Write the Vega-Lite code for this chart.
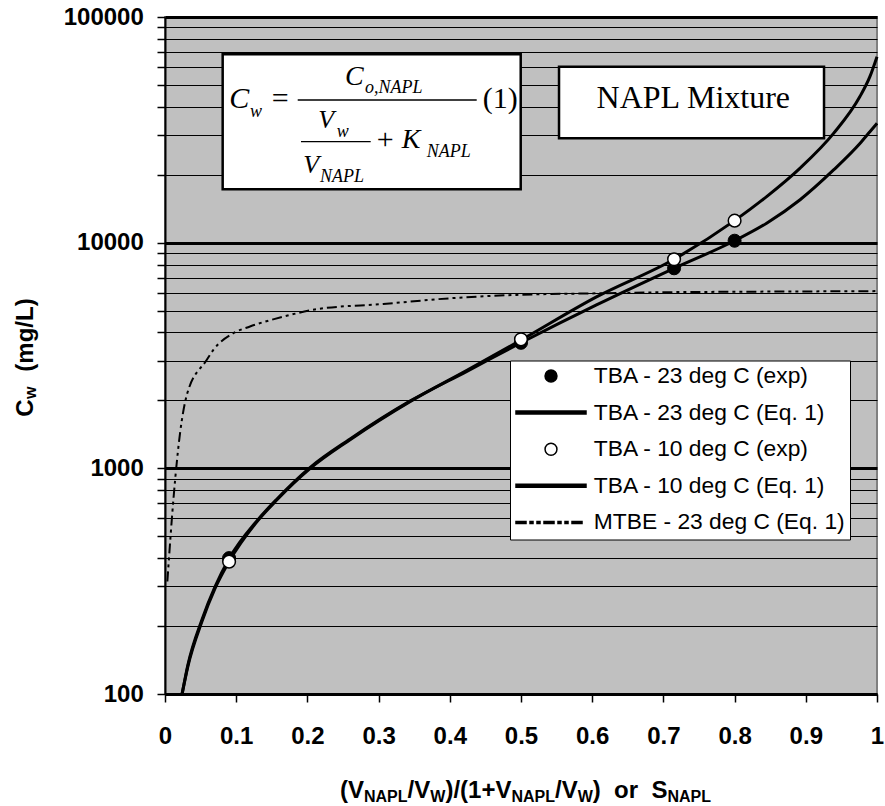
{
  "$schema": "https://vega.github.io/schema/vega-lite/v6.json",
  "width": 712,
  "height": 677,
  "autosize": {"type": "none"},
  "padding": {"left": 165, "top": 17, "right": 8, "bottom": 112},
  "background": "white",
  "config": {
    "view": {"fill": "#C0C0C0", "stroke": "#808080", "strokeWidth": 2}
  },
  "datasets": {
    "curves": [
      {"series": "TBA - 10 deg C (Eq. 1)", "x": 0.024, "y": 100},
      {"series": "TBA - 10 deg C (Eq. 1)", "x": 0.032, "y": 132},
      {"series": "TBA - 10 deg C (Eq. 1)", "x": 0.052, "y": 210},
      {"series": "TBA - 10 deg C (Eq. 1)", "x": 0.07, "y": 292},
      {"series": "TBA - 10 deg C (Eq. 1)", "x": 0.09, "y": 386},
      {"series": "TBA - 10 deg C (Eq. 1)", "x": 0.129, "y": 579},
      {"series": "TBA - 10 deg C (Eq. 1)", "x": 0.157, "y": 724},
      {"series": "TBA - 10 deg C (Eq. 1)", "x": 0.204, "y": 1000},
      {"series": "TBA - 10 deg C (Eq. 1)", "x": 0.26, "y": 1340},
      {"series": "TBA - 10 deg C (Eq. 1)", "x": 0.344, "y": 1975},
      {"series": "TBA - 10 deg C (Eq. 1)", "x": 0.424, "y": 2720},
      {"series": "TBA - 10 deg C (Eq. 1)", "x": 0.5, "y": 3700},
      {"series": "TBA - 10 deg C (Eq. 1)", "x": 0.606, "y": 5750},
      {"series": "TBA - 10 deg C (Eq. 1)", "x": 0.715, "y": 8445},
      {"series": "TBA - 10 deg C (Eq. 1)", "x": 0.8, "y": 12520},
      {"series": "TBA - 10 deg C (Eq. 1)", "x": 0.845, "y": 16000},
      {"series": "TBA - 10 deg C (Eq. 1)", "x": 0.892, "y": 21400},
      {"series": "TBA - 10 deg C (Eq. 1)", "x": 0.939, "y": 30500},
      {"series": "TBA - 10 deg C (Eq. 1)", "x": 0.976, "y": 44400},
      {"series": "TBA - 10 deg C (Eq. 1)", "x": 0.99, "y": 54400},
      {"series": "TBA - 10 deg C (Eq. 1)", "x": 1.0, "y": 66700},
      {"series": "TBA - 23 deg C (Eq. 1)", "x": 0.024, "y": 100},
      {"series": "TBA - 23 deg C (Eq. 1)", "x": 0.032, "y": 134},
      {"series": "TBA - 23 deg C (Eq. 1)", "x": 0.052, "y": 214},
      {"series": "TBA - 23 deg C (Eq. 1)", "x": 0.07, "y": 298},
      {"series": "TBA - 23 deg C (Eq. 1)", "x": 0.09, "y": 398},
      {"series": "TBA - 23 deg C (Eq. 1)", "x": 0.129, "y": 585},
      {"series": "TBA - 23 deg C (Eq. 1)", "x": 0.157, "y": 730},
      {"series": "TBA - 23 deg C (Eq. 1)", "x": 0.204, "y": 1010},
      {"series": "TBA - 23 deg C (Eq. 1)", "x": 0.26, "y": 1350},
      {"series": "TBA - 23 deg C (Eq. 1)", "x": 0.344, "y": 1985},
      {"series": "TBA - 23 deg C (Eq. 1)", "x": 0.424, "y": 2690},
      {"series": "TBA - 23 deg C (Eq. 1)", "x": 0.5, "y": 3600},
      {"series": "TBA - 23 deg C (Eq. 1)", "x": 0.606, "y": 5300},
      {"series": "TBA - 23 deg C (Eq. 1)", "x": 0.715, "y": 7700},
      {"series": "TBA - 23 deg C (Eq. 1)", "x": 0.8, "y": 10200},
      {"series": "TBA - 23 deg C (Eq. 1)", "x": 0.845, "y": 12200},
      {"series": "TBA - 23 deg C (Eq. 1)", "x": 0.892, "y": 15500},
      {"series": "TBA - 23 deg C (Eq. 1)", "x": 0.939, "y": 21000},
      {"series": "TBA - 23 deg C (Eq. 1)", "x": 0.976, "y": 27500},
      {"series": "TBA - 23 deg C (Eq. 1)", "x": 0.99, "y": 31000},
      {"series": "TBA - 23 deg C (Eq. 1)", "x": 1.0, "y": 33800},
      {"series": "MTBE - 23 deg C (Eq. 1)", "x": 0.0033, "y": 315},
      {"series": "MTBE - 23 deg C (Eq. 1)", "x": 0.012, "y": 740},
      {"series": "MTBE - 23 deg C (Eq. 1)", "x": 0.0211, "y": 1430},
      {"series": "MTBE - 23 deg C (Eq. 1)", "x": 0.0313, "y": 2150},
      {"series": "MTBE - 23 deg C (Eq. 1)", "x": 0.0585, "y": 3020},
      {"series": "MTBE - 23 deg C (Eq. 1)", "x": 0.0679, "y": 3350},
      {"series": "MTBE - 23 deg C (Eq. 1)", "x": 0.0959, "y": 3970},
      {"series": "MTBE - 23 deg C (Eq. 1)", "x": 0.1194, "y": 4250},
      {"series": "MTBE - 23 deg C (Eq. 1)", "x": 0.1662, "y": 4700},
      {"series": "MTBE - 23 deg C (Eq. 1)", "x": 0.213, "y": 5070},
      {"series": "MTBE - 23 deg C (Eq. 1)", "x": 0.3066, "y": 5350},
      {"series": "MTBE - 23 deg C (Eq. 1)", "x": 0.4003, "y": 5670},
      {"series": "MTBE - 23 deg C (Eq. 1)", "x": 0.494, "y": 5870},
      {"series": "MTBE - 23 deg C (Eq. 1)", "x": 0.6, "y": 5960},
      {"series": "MTBE - 23 deg C (Eq. 1)", "x": 0.7, "y": 6030},
      {"series": "MTBE - 23 deg C (Eq. 1)", "x": 0.8, "y": 6060},
      {"series": "MTBE - 23 deg C (Eq. 1)", "x": 0.9, "y": 6080},
      {"series": "MTBE - 23 deg C (Eq. 1)", "x": 1.0, "y": 6100}
    ],
    "points": [
      {"series": "TBA - 23 deg C (exp)", "x": 0.09, "y": 400},
      {"series": "TBA - 23 deg C (exp)", "x": 0.5, "y": 3600},
      {"series": "TBA - 23 deg C (exp)", "x": 0.715, "y": 7700},
      {"series": "TBA - 23 deg C (exp)", "x": 0.8, "y": 10200},
      {"series": "TBA - 10 deg C (exp)", "x": 0.09, "y": 386},
      {"series": "TBA - 10 deg C (exp)", "x": 0.5, "y": 3730},
      {"series": "TBA - 10 deg C (exp)", "x": 0.715, "y": 8445},
      {"series": "TBA - 10 deg C (exp)", "x": 0.8, "y": 12520}
    ],
    "one": [{}]
  },
  "layer": [
    {
      "encoding": {
        "x": {
          "field": "x", "type": "quantitative",
          "scale": {"domain": [0, 1], "nice": false, "zero": false},
          "axis": {
            "title": null,
            "values": [0, 0.1, 0.2, 0.3, 0.4, 0.5, 0.6, 0.7, 0.8, 0.9, 1],
            "format": "~g",
            "grid": false,
            "domainColor": "black", "domainWidth": 2,
            "tickColor": "black", "tickWidth": 1.5, "tickSize": 8,
            "labelFont": "Liberation Sans", "labelFontWeight": "bold", "labelFontSize": 24,
            "labelColor": "black", "labelPadding": 22, "labelFlush": false, "labelOverlap": false
          }
        },
        "y": {
          "field": "y", "type": "quantitative",
          "scale": {"type": "log", "domain": [100, 100000], "nice": false},
          "axis": {
            "title": null,
            "values": [100, 200, 300, 400, 500, 600, 700, 800, 900, 1000, 2000, 3000, 4000, 5000, 6000, 7000, 8000, 9000, 10000, 20000, 30000, 40000, 50000, 60000, 70000, 80000, 90000, 100000],
            "labelExpr": "(datum.value == 100 || datum.value == 1000 || datum.value == 10000 || datum.value == 100000) ? format(datum.value, 'd') : ''",
            "grid": true,
            "gridColor": "black",
            "gridOpacity": 1,
            "gridWidth": {"condition": {"test": "datum.value == 100 || datum.value == 1000 || datum.value == 10000 || datum.value == 100000", "value": 3}, "value": 1},
            "domainColor": "black", "domainWidth": 2,
            "tickColor": "black", "tickWidth": 1.5, "tickSize": 8,
            "labelFont": "Liberation Sans", "labelFontWeight": "bold", "labelFontSize": 24,
            "labelColor": "black", "labelPadding": 13.7, "labelFlush": false, "labelOverlap": false, "labelBound": false
          }
        }
      },
      "layer": [
        {
          "data": {"name": "curves"},
          "transform": [{"filter": "datum.series != 'MTBE - 23 deg C (Eq. 1)'"}],
          "mark": {"type": "line", "strokeWidth": 3, "interpolate": "monotone"},
          "encoding": {
            "color": {
              "field": "series", "type": "nominal",
              "scale": {
                "domain": ["TBA - 23 deg C (exp)", "TBA - 23 deg C (Eq. 1)", "TBA - 10 deg C (exp)", "TBA - 10 deg C (Eq. 1)", "MTBE - 23 deg C (Eq. 1)"],
                "range": ["black", "black", "black", "black", "black"]
              },
              "legend": {
                "title": null,
                "orient": "none",
                "legendX": 345,
                "legendY": 343.5,
                "fillColor": "white",
                "strokeColor": "black",
                "padding": 4.5,
                "symbolSize": 4900,
                "symbolStrokeWidth": 1.5,
                "clipHeight": 22,
                "rowPadding": 13.6,
                "symbolOffset": 0.5,
                "labelOffset": 6.8,
                "labelFont": "Liberation Sans",
                "labelFontSize": 22.8,
                "labelColor": "black",
                "labelLimit": 0,
                "encode": {
                  "symbols": {
                    "update": {
                      "shape": {"signal": "datum.value == 'MTBE - 23 deg C (Eq. 1)' ? 'M-1,-0.029H-0.714V0.029H-1Z M-0.6,-0.029H-0.514V0.029H-0.6Z M-0.4,-0.029H-0.314V0.029H-0.4Z M-0.2,-0.029H0.086V0.029H-0.2Z M0.2,-0.029H0.286V0.029H0.2Z M0.4,-0.029H0.486V0.029H0.4Z M0.6,-0.029H0.886V0.029H0.6Z' : (indexof(datum.value, 'exp') >= 0 ? 'M-0.17,0A0.17,0.17 0 1,0 0.17,0A0.17,0.17 0 1,0 -0.17,0Z' : 'M-1,-0.043H1V0.043H-1Z')"},
                      "fill": {"signal": "datum.value == 'TBA - 10 deg C (exp)' ? 'white' : 'black'"},
                      "stroke": {"signal": "indexof(datum.value, 'exp') >= 0 ? 'black' : 'transparent'"},
                      "opacity": {"value": 1},
                      "fillOpacity": {"value": 1}
                    }
                  }
                }
              }
            }
          }
        },
        {
          "data": {"name": "curves"},
          "transform": [{"filter": "datum.series == 'MTBE - 23 deg C (Eq. 1)'"}],
          "mark": {"type": "line", "strokeWidth": 2, "color": "black", "strokeDash": [10, 4, 3, 4, 3, 4], "interpolate": "monotone"}
        },
        {
          "data": {"name": "points"},
          "transform": [{"filter": "datum.series == 'TBA - 23 deg C (exp)'"}],
          "mark": {"type": "point", "shape": "circle", "filled": true, "fill": "black", "stroke": "black", "strokeWidth": 1, "size": 170, "opacity": 1}
        },
        {
          "data": {"name": "points"},
          "transform": [{"filter": "datum.series == 'TBA - 10 deg C (exp)'"}],
          "mark": {"type": "point", "shape": "circle", "filled": true, "fill": "white", "stroke": "black", "strokeWidth": 1.5, "size": 160, "opacity": 1}
        }
      ]
    },
    {
      "data": {"name": "one"},
      "mark": {"type": "rect", "fill": "white", "stroke": "black", "strokeWidth": 2.5},
      "encoding": {
        "x": {"datum": 0.081, "type": "quantitative", "title": null},
        "x2": {"datum": 0.4996},
        "y": {"datum": 68370, "type": "quantitative", "title": null},
        "y2": {"datum": 17240}
      }
    },
    {
      "data": {"name": "one"},
      "mark": {"type": "rect", "fill": "white", "stroke": "black", "strokeWidth": 2.5},
      "encoding": {
        "x": {"datum": 0.5534, "type": "quantitative", "title": null},
        "x2": {"datum": 0.9256},
        "y": {"datum": 60230, "type": "quantitative", "title": null},
        "y2": {"datum": 29010}
      }
    },
    {
      "data": {"name": "one"},
      "mark": {"type": "text", "text": "NAPL Mixture", "font": "Liberation Serif", "fontSize": 32, "align": "center", "baseline": "alphabetic", "dy": 8.3, "color": "black"},
      "encoding": {
        "x": {"datum": 0.742, "type": "quantitative", "title": null},
        "y": {"datum": 42870, "type": "quantitative", "title": null}
      }
    },
    {
      "data": {"name": "one"},
      "mark": {"type": "rule", "color": "black", "strokeWidth": 1.5},
      "encoding": {
        "x": {"datum": 0.1864, "type": "quantitative", "title": null},
        "x2": {"datum": 0.4378},
        "y": {"datum": 42870, "type": "quantitative", "title": null}
      }
    },
    {
      "data": {"name": "one"},
      "mark": {"type": "rule", "color": "black", "strokeWidth": 1.2},
      "encoding": {
        "x": {"datum": 0.191, "type": "quantitative", "title": null},
        "x2": {"datum": 0.2889},
        "y": {"datum": 28030, "type": "quantitative", "title": null}
      }
    },
    {
      "data": {"name": "one"},
      "encoding": {
        "x": {"datum": 0.081, "type": "quantitative", "title": null},
        "y": {"datum": 42870, "type": "quantitative", "title": null}
      },
      "layer": [
        {"mark": {"type": "text", "text": "C", "font": "Liberation Serif", "fontStyle": "italic", "fontSize": 30, "align": "left", "baseline": "alphabetic", "dx": 6.6, "dy": 8, "color": "black"}},
        {"mark": {"type": "text", "text": "w", "font": "Liberation Serif", "fontStyle": "italic", "fontSize": 18, "align": "left", "baseline": "alphabetic", "dx": 27.3, "dy": 17, "color": "black"}},
        {"mark": {"type": "text", "text": "=", "font": "Liberation Serif", "fontSize": 30, "align": "left", "baseline": "alphabetic", "dx": 49, "dy": 8, "color": "black"}},
        {"mark": {"type": "text", "text": "C", "font": "Liberation Serif", "fontStyle": "italic", "fontSize": 28, "align": "left", "baseline": "alphabetic", "dx": 122.3, "dy": -15, "color": "black"}},
        {"mark": {"type": "text", "text": "o,NAPL", "font": "Liberation Serif", "fontStyle": "italic", "fontSize": 18, "align": "left", "baseline": "alphabetic", "dx": 142.3, "dy": -6.7, "color": "black"}},
        {"mark": {"type": "text", "text": "(1)", "font": "Liberation Serif", "fontSize": 30, "align": "left", "baseline": "alphabetic", "dx": 260, "dy": 8.4, "color": "black"}},
        {"mark": {"type": "text", "text": "V", "font": "Liberation Serif", "fontStyle": "italic", "fontSize": 26, "align": "left", "baseline": "alphabetic", "dx": 95.6, "dy": 28.3, "color": "black"}},
        {"mark": {"type": "text", "text": "w", "font": "Liberation Serif", "fontStyle": "italic", "fontSize": 18, "align": "left", "baseline": "alphabetic", "dx": 114, "dy": 36.7, "color": "black"}},
        {"mark": {"type": "text", "text": "V", "font": "Liberation Serif", "fontStyle": "italic", "fontSize": 26, "align": "left", "baseline": "alphabetic", "dx": 80.6, "dy": 73.3, "color": "black"}},
        {"mark": {"type": "text", "text": "NAPL", "font": "Liberation Serif", "fontStyle": "italic", "fontSize": 18, "align": "left", "baseline": "alphabetic", "dx": 97.3, "dy": 81.7, "color": "black"}},
        {"mark": {"type": "text", "text": "+", "font": "Liberation Serif", "fontSize": 30, "align": "left", "baseline": "alphabetic", "dx": 154, "dy": 49, "color": "black"}},
        {"mark": {"type": "text", "text": "K", "font": "Liberation Serif", "fontStyle": "italic", "fontSize": 28, "align": "left", "baseline": "alphabetic", "dx": 179, "dy": 48.3, "color": "black"}},
        {"mark": {"type": "text", "text": "NAPL", "font": "Liberation Serif", "fontStyle": "italic", "fontSize": 18, "align": "left", "baseline": "alphabetic", "dx": 204, "dy": 56.7, "color": "black"}}
      ]
    },
    {
      "data": {"name": "one"},
      "encoding": {
        "x": {"datum": 0, "type": "quantitative", "title": null},
        "y": {"datum": 34.6, "type": "quantitative", "title": null}
      },
      "layer": [
        {"mark": {"type": "text", "text": "(V", "font": "Liberation Sans", "fontWeight": "bold", "fontSize": 24, "align": "left", "baseline": "alphabetic", "dx": 175, "dy": 0, "color": "black"}},
        {"mark": {"type": "text", "text": "NAPL", "font": "Liberation Sans", "fontWeight": "bold", "fontSize": 16, "align": "left", "baseline": "alphabetic", "dx": 199, "dy": 4, "color": "black"}},
        {"mark": {"type": "text", "text": "/V", "font": "Liberation Sans", "fontWeight": "bold", "fontSize": 24, "align": "left", "baseline": "alphabetic", "dx": 242.6, "dy": 0, "color": "black"}},
        {"mark": {"type": "text", "text": "W", "font": "Liberation Sans", "fontWeight": "bold", "fontSize": 16, "align": "left", "baseline": "alphabetic", "dx": 265.3, "dy": 4, "color": "black"}},
        {"mark": {"type": "text", "text": ")/(1+V", "font": "Liberation Sans", "fontWeight": "bold", "fontSize": 24, "align": "left", "baseline": "alphabetic", "dx": 280.4, "dy": 0, "color": "black"}},
        {"mark": {"type": "text", "text": "NAPL", "font": "Liberation Sans", "fontWeight": "bold", "fontSize": 16, "align": "left", "baseline": "alphabetic", "dx": 346.4, "dy": 4, "color": "black"}},
        {"mark": {"type": "text", "text": "/V", "font": "Liberation Sans", "fontWeight": "bold", "fontSize": 24, "align": "left", "baseline": "alphabetic", "dx": 390, "dy": 0, "color": "black"}},
        {"mark": {"type": "text", "text": "W", "font": "Liberation Sans", "fontWeight": "bold", "fontSize": 16, "align": "left", "baseline": "alphabetic", "dx": 412.7, "dy": 4, "color": "black"}},
        {"mark": {"type": "text", "text": ")", "font": "Liberation Sans", "fontWeight": "bold", "fontSize": 24, "align": "left", "baseline": "alphabetic", "dx": 427.8, "dy": 0, "color": "black"}},
        {"mark": {"type": "text", "text": "or", "font": "Liberation Sans", "fontWeight": "bold", "fontSize": 24, "align": "left", "baseline": "alphabetic", "dx": 449.1, "dy": 0, "color": "black"}},
        {"mark": {"type": "text", "text": "S", "font": "Liberation Sans", "fontWeight": "bold", "fontSize": 24, "align": "left", "baseline": "alphabetic", "dx": 486.4, "dy": 0, "color": "black"}},
        {"mark": {"type": "text", "text": "NAPL", "font": "Liberation Sans", "fontWeight": "bold", "fontSize": 16, "align": "left", "baseline": "alphabetic", "dx": 502.4, "dy": 4, "color": "black"}}
      ]
    },
    {
      "data": {"name": "one"},
      "encoding": {
        "x": {"datum": -0.1847, "type": "quantitative", "title": null},
        "y": {"datum": 1694, "type": "quantitative", "title": null}
      },
      "layer": [
        {"mark": {"type": "text", "text": "C", "font": "Liberation Sans", "fontWeight": "bold", "fontSize": 24, "angle": 270, "align": "left", "baseline": "alphabetic", "dx": 0, "dy": 0, "color": "black"}},
        {"mark": {"type": "text", "text": "w", "font": "Liberation Sans", "fontWeight": "bold", "fontSize": 16, "angle": 270, "align": "left", "baseline": "alphabetic", "dx": 17.8, "dy": 3, "color": "black"}},
        {"mark": {"type": "text", "text": "(mg/L)", "font": "Liberation Sans", "fontWeight": "bold", "fontSize": 24, "angle": 270, "align": "left", "baseline": "alphabetic", "dx": 45, "dy": 0, "color": "black"}}
      ]
    }
  ]
}
